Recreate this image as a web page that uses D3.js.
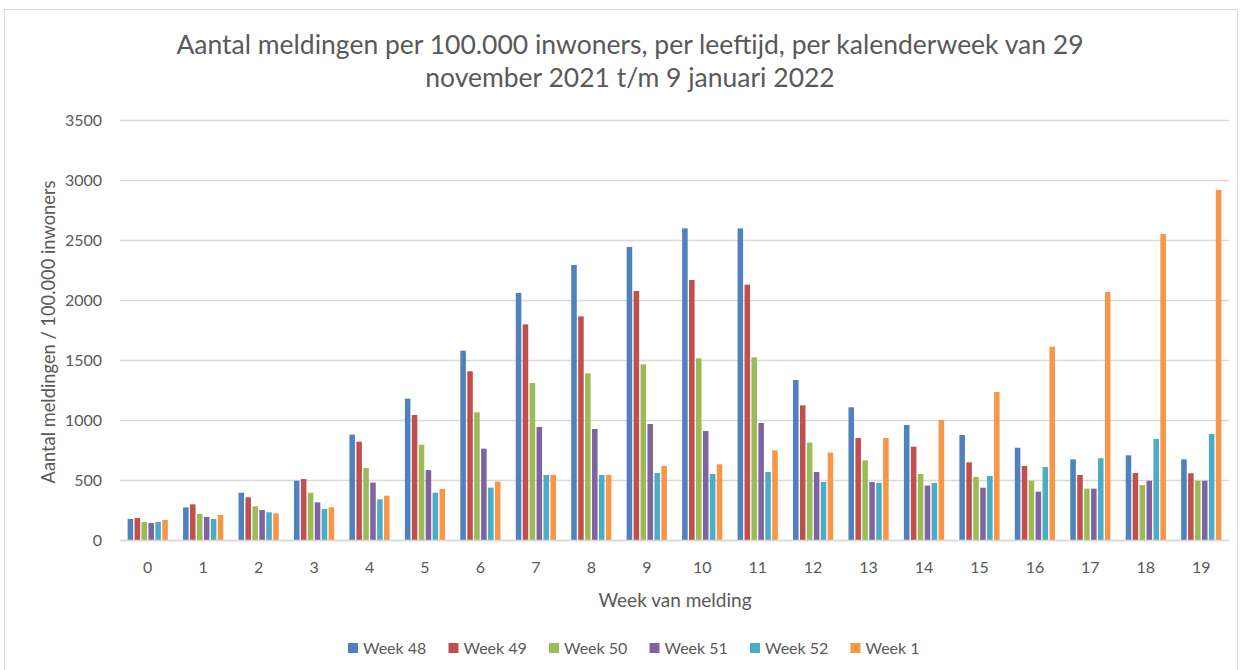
<!DOCTYPE html>
<html lang="nl">
<head>
<meta charset="UTF-8">
<title>Meldingen per leeftijd</title>
<script src="https://d3js.org/d3.v7.min.js"></script>
<style>
  body { margin: 0; background: #fff; }
  text { font-family: Lato, "Open Sans", sans-serif; fill: #595959; }
</style>
</head>
<body>
<div id="chart"></div>
<script>
// leeftijd (age) categories on the x axis
const ages = ["0","1","2","3","4","5","6","7","8","9","10","11","12","13","14","15","16","17","18","19"];
const seriesNames = ["Week 48", "Week 49", "Week 50", "Week 51", "Week 52", "Week 1"];
const colors = ["#4F81BD", "#C0504D", "#9BBB59", "#8064A2", "#4BACC6", "#F79646"];
const yTicks = [0, 500, 1000, 1500, 2000, 2500, 3000, 3500];

// meldingen per 100.000
const week48 = [175, 272, 394, 494, 878, 1178, 1578, 2058, 2292, 2442, 2597, 2597, 1333, 1106, 958, 875, 769, 672, 706, 672];
const week49 = [183, 297, 356, 508, 819, 1042, 1406, 1797, 1864, 2075, 2167, 2128, 1122, 850, 778, 647, 617, 542, 558, 556];
const week50 = [150, 217, 281, 394, 600, 794, 1064, 1308, 1389, 1464, 1514, 1522, 811, 664, 550, 525, 494, 428, 458, 494];
const week51 = [142, 192, 250, 314, 478, 583, 761, 942, 925, 967, 908, 975, 567, 483, 453, 436, 403, 428, 494, 494];
const week52 = [150, 175, 231, 258, 339, 394, 436, 542, 542, 558, 550, 567, 483, 475, 475, 533, 608, 681, 842, 883];
const week1  = [167, 208, 222, 272, 369, 425, 486, 542, 542, 617, 631, 747, 728, 850, 1000, 1233, 1611, 2067, 2550, 2917];

const seriesValues = [week48, week49, week50, week51, week52, week1];

const W = 1242, H = 670;
const margin = { top: 120, right: 13, bottom: 130, left: 120 };
const width = W - margin.left - margin.right,
      height = H - margin.top - margin.bottom;

const svg = d3.select("#chart").append("svg")
    .attr("width", W)
    .attr("height", H);

// chart border
svg.append("rect")
    .attr("x", 4.5).attr("y", 9.5)
    .attr("width", 1233).attr("height", 700)
    .attr("fill", "#fff")
    .attr("stroke", "#D9D9D9")
    .attr("stroke-width", 1);

// title
const title = svg.append("text")
    .attr("text-anchor", "middle")
    .attr("font-size", 26.5);
title.append("tspan").attr("x", 630).attr("y", 54)
    .text("Aantal meldingen per 100.000 inwoners, per leeftijd, per kalenderweek van 29");
title.append("tspan").attr("x", 630).attr("y", 87)
    .text("november 2021 t/m 9 januari 2022");

const g = svg.append("g")
    .attr("transform", "translate(" + margin.left + "," + margin.top + ")");

const x0 = d3.scaleBand()
    .domain(ages)
    .range([0, width])
    .paddingInner(0.225)
    .paddingOuter(0.1125);

const x1 = d3.scaleBand()
    .domain(seriesNames)
    .range([0, x0.bandwidth()])
    .padding(0.2);

const y = d3.scaleLinear()
    .domain([0, 3500])
    .range([height, 0]);

// gridlines + y labels
const yAxis = g.append("g")
    .call(d3.axisLeft(y).tickValues(yTicks).tickFormat(d3.format("d")).tickSize(-width).tickPadding(18));
yAxis.select(".domain").remove();
yAxis.selectAll(".tick line")
    .attr("stroke", "#D9D9D9")
    .attr("stroke-width", 1.5);
yAxis.selectAll(".tick text")
    .attr("font-size", 16)
    .attr("fill", "#595959");

// bars
const groups = g.selectAll(".age")
    .data(ages)
    .join("g")
    .attr("class", "age")
    .attr("transform", d => "translate(" + x0(d) + ",0)");

groups.selectAll("rect")
    .data((d, i) => seriesNames.map((s, j) => ({ s: s, j: j, v: seriesValues[j][i] })))
    .join("rect")
    .attr("x", d => x1(d.s))
    .attr("width", x1.bandwidth())
    .attr("y", d => y(d.v))
    .attr("height", d => height - y(d.v))
    .attr("fill", d => colors[d.j]);

// x axis
const xAxis = g.append("g")
    .attr("transform", "translate(0," + height + ")")
    .call(d3.axisBottom(x0).tickSize(0).tickPadding(22));
xAxis.select(".domain")
    .attr("stroke", "#D9D9D9")
    .attr("stroke-width", 1.5);
xAxis.selectAll(".tick text")
    .attr("font-size", 16)
    .attr("fill", "#595959");

// axis titles
svg.append("text")
    .attr("text-anchor", "middle")
    .attr("x", 675).attr("y", 607)
    .attr("font-size", 19)
    .text("Week van melding");

svg.append("text")
    .attr("text-anchor", "middle")
    .attr("transform", "translate(55,332) rotate(-90)")
    .attr("font-size", 18.3)
    .text("Aantal meldingen / 100.000 inwoners");

// legend
const legend = svg.append("g")
    .selectAll("g")
    .data(seriesNames)
    .join("g")
    .attr("transform", (d, i) => "translate(" + (348 + i * 100.5) + ",643)");
legend.append("rect")
    .attr("width", 10).attr("height", 10)
    .attr("fill", (d, i) => colors[i]);
legend.append("text")
    .attr("x", 15).attr("y", 10.5)
    .attr("font-size", 16)
    .text(d => d);
</script>
</body>
</html>
